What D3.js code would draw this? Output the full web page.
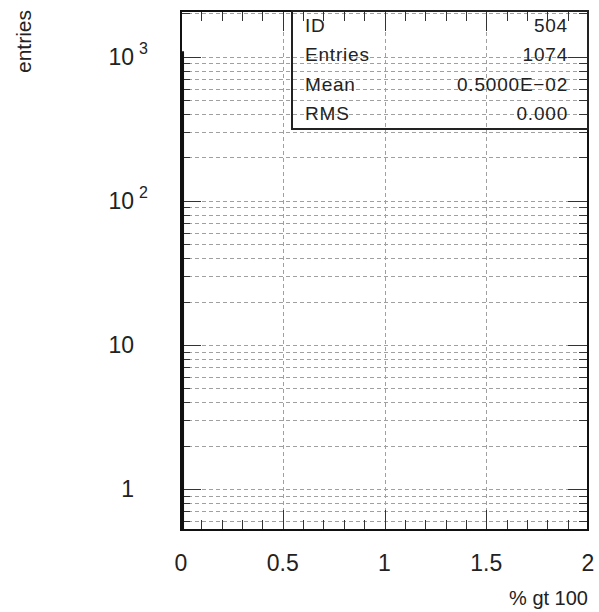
<!DOCTYPE html>
<html><head><meta charset="utf-8">
<script src="https://cdn.jsdelivr.net/npm/d3@7"></script>
<style>
html,body{margin:0;padding:0;background:#fff;}
text{font-family:"Liberation Sans",Arial,Helvetica,sans-serif;fill:#222;}
</style></head>
<body><svg id="c" width="599" height="612"></svg>
<script>
// ---- data ----
const binLefts = [0];          // histogram bin lower edges with non-zero content
const binWidth = 0.01;
const counts = [1074];
const xTickValues = [0, 0.5, 1, 1.5, 2];
const xTickLabels = ["0", "0.5", "1", "1.5", "2"];
const yMajorValues = [1, 10, 100, 1000];
const yMajorBase = ["1", "10", "10", "10"];
const yMajorSup = ["", "", "2", "3"];
const statLabels = ["ID", "Entries", "Mean", "RMS"];
const statValues = ["504", "1074", "0.5000E\u221202", "0.000"];
const xTitle = "% gt 100";
const yTitle = "entries";
const xDomain = [0, 2];
const yDomain = [0.52, 2075];

// ---- layout ----
const L = 181, R = 588, T = 11, B = 530;
const svg = d3.select("#c");
const x = d3.scaleLinear().domain(xDomain).range([L, R]);
const y = d3.scaleLog().domain(yDomain).range([B, T]);

const logTicks = [];
for (let e = -1; e <= 3; e++) for (let m = 1; m <= 9; m++) {
  const v = m * Math.pow(10, e);
  if (v >= yDomain[0] && v <= yDomain[1]) logTicks.push(v);
}
const xMinor = d3.range(0, 2.0001, 0.1).map(v => +v.toFixed(2));

// grid
const grid = svg.append("g").attr("stroke", "#a0a0a0").attr("stroke-width", 1).attr("stroke-dasharray", "4,3").attr("fill", "none");
grid.selectAll("line.h").data(logTicks).join("line").attr("class", "h")
  .attr("x1", L).attr("x2", R).attr("y1", d => Math.round(y(d)) + 0.5).attr("y2", d => Math.round(y(d)) + 0.5);
grid.selectAll("line.v").data([0.5, 1, 1.5]).join("line").attr("class", "v")
  .attr("y1", T).attr("y2", B).attr("x1", d => Math.round(x(d)) + 0.5).attr("x2", d => Math.round(x(d)) + 0.5);

// ticks
const tk = svg.append("g").attr("stroke", "#333").attr("stroke-width", 1);
const isMajorY = v => yMajorValues.includes(v);
logTicks.forEach(v => {
  const yy = Math.round(y(v)) + 0.5, len = isMajorY(v) ? 20 : 9;
  tk.append("line").attr("x1", L).attr("x2", L + len).attr("y1", yy).attr("y2", yy);
  tk.append("line").attr("x1", R).attr("x2", R - len).attr("y1", yy).attr("y2", yy);
});
xMinor.forEach(v => {
  const xx = Math.round(x(v)) + 0.5, len = (Math.abs(v * 2 - Math.round(v * 2)) < 1e-6) ? 20 : 10;
  tk.append("line").attr("x1", xx).attr("x2", xx).attr("y1", B).attr("y2", B - len);
  tk.append("line").attr("x1", xx).attr("x2", xx).attr("y1", T).attr("y2", T + len);
});

// histogram
const pathD = [];
binLefts.forEach((b, i) => {
  const x0 = x(b), x1 = x(b + binWidth), yy = y(counts[i]);
  pathD.push(`M${x0},${B}L${x0},${yy}L${x1},${yy}L${x1},${B}`);
});
svg.append("rect").attr("x", x(binLefts[0])).attr("y", y(counts[0]))
  .attr("width", x(binLefts[0] + binWidth) - x(binLefts[0])).attr("height", B - y(counts[0])).attr("fill", "#111");
svg.append("path").attr("d", pathD.join("")).attr("fill", "none").attr("stroke", "#111").attr("stroke-width", 2);

// frame
svg.append("rect").attr("x", L).attr("y", T).attr("width", R - L).attr("height", B - T)
  .attr("fill", "none").attr("stroke", "#111").attr("stroke-width", 2);

// x tick labels
svg.append("g").selectAll("text").data(xTickValues).join("text")
  .attr("x", d => x(d)).attr("y", 571).attr("text-anchor", "middle")
  .attr("font-size", 23).text((d, i) => xTickLabels[i]);

// y tick labels
const yl = svg.append("g");
yMajorValues.forEach((v, i) => {
  yl.append("text").attr("x", 134).attr("y", y(v) + 8).attr("text-anchor", "end").attr("font-size", 23).text(yMajorBase[i]);
  if (yMajorSup[i]) {
    yl.append("text").attr("x", 139).attr("y", y(v) - 3).attr("font-size", 16).text(yMajorSup[i]);
  }
});

// titles
svg.append("text").attr("x", R).attr("y", 605).attr("text-anchor", "end").attr("font-size", 20).text(xTitle);
svg.append("text").attr("transform", "translate(31,10) rotate(-90)").attr("text-anchor", "end").attr("font-size", 21).text(yTitle);

// stats box
const bx0 = 292, by0 = 11, bx1 = 588, by1 = 129;
svg.append("rect").attr("x", bx0).attr("y", by0).attr("width", bx1 - bx0).attr("height", by1 - by0)
  .attr("fill", "none").attr("stroke", "#222").attr("stroke-width", 2);
const rowH = (by1 - by0) / statLabels.length;
statLabels.forEach((s, i) => {
  const cy = by0 + rowH * (i + 0.5) + 6;
  svg.append("text").attr("x", bx0 + 13).attr("y", cy).attr("font-size", 19).attr("letter-spacing", 0.8).attr("fill", "#444").text(s);
  svg.append("text").attr("x", bx1 - 20).attr("y", cy).attr("text-anchor", "end").attr("font-size", 19).attr("letter-spacing", 0.8).attr("fill", "#444").text(statValues[i]);
});
</script></body></html>
